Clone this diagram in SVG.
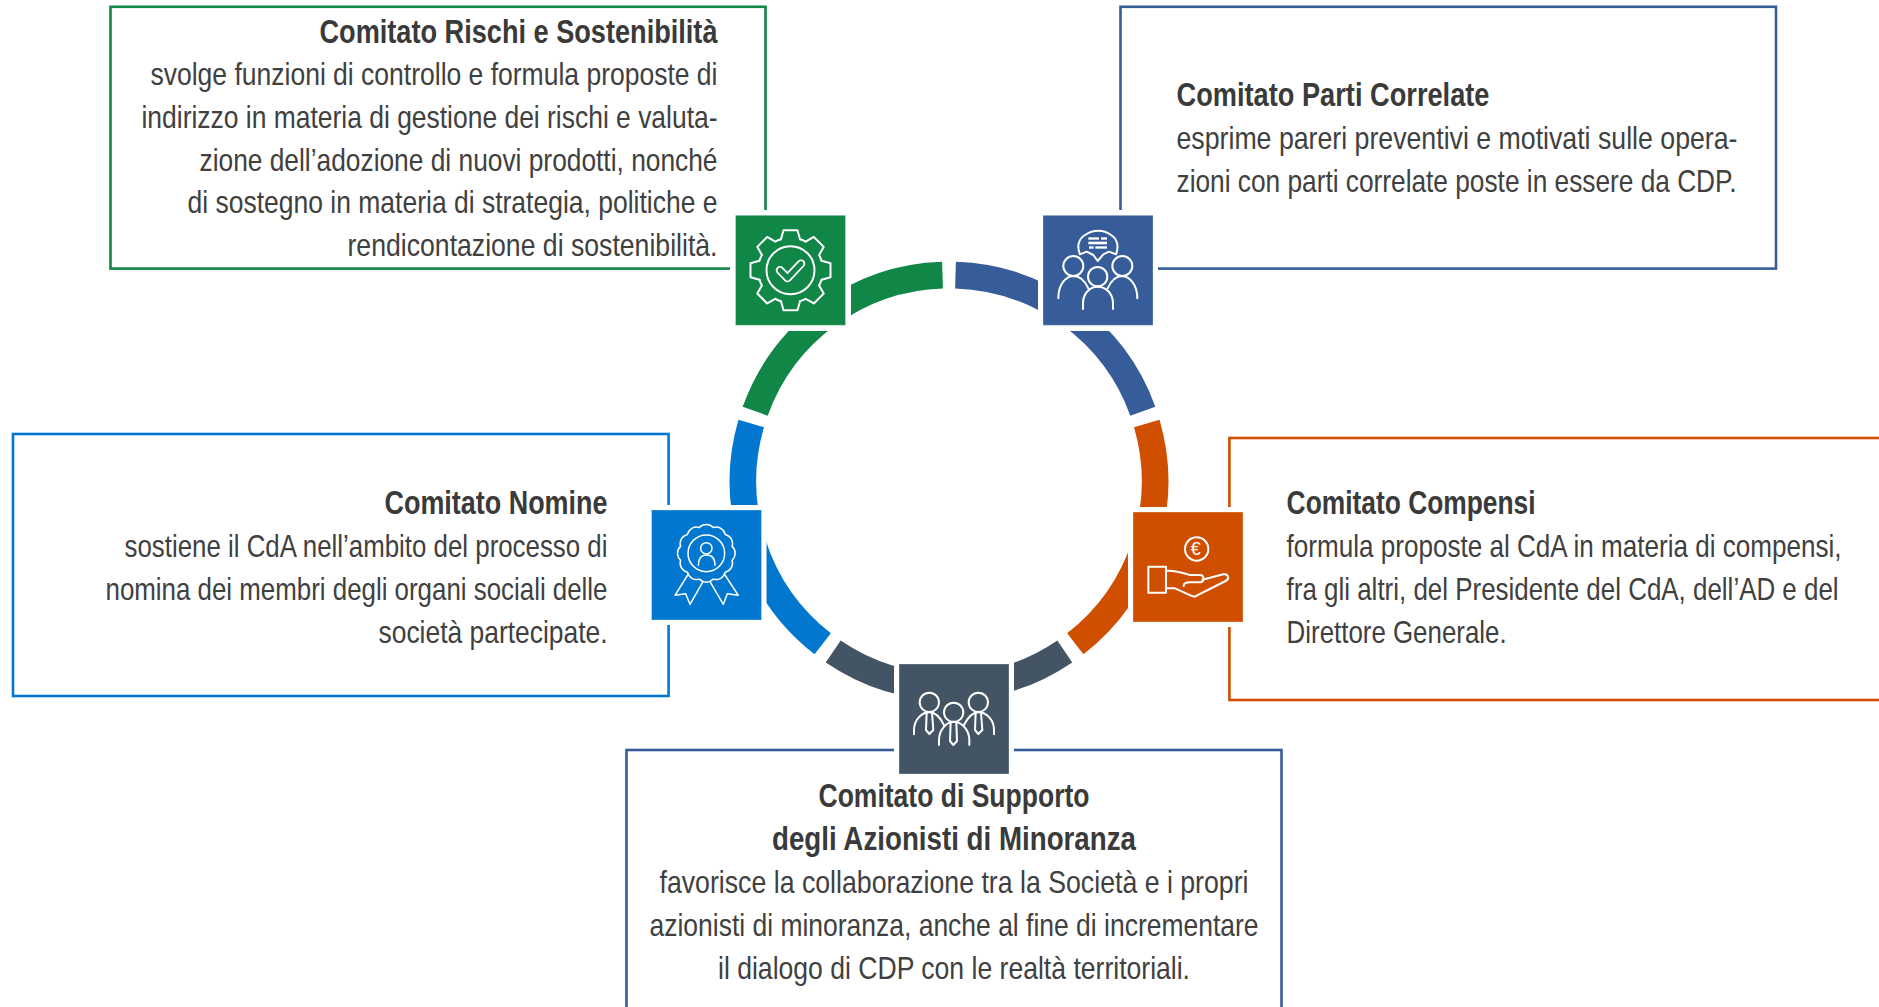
<svg xmlns="http://www.w3.org/2000/svg" xmlns:xlink="http://www.w3.org/1999/xlink" width="1879" height="1007" viewBox="0 0 1879 1007">
<style>
text{font-family:"Liberation Sans Narrow","Liberation Sans",Arial,sans-serif;fill:#404040;font-size:30.5px}
.t{font-weight:700;font-size:32.5px;fill:#3a3a3a}
.e{text-anchor:end}.m{text-anchor:middle}
.box{fill:none;stroke-width:2.6}
.ring{fill:none;stroke-width:26.6}
.halo{fill:#fff}
.sq{stroke:#fff;stroke-opacity:.3;stroke-width:1}
.ic{fill:none;stroke:#fff;stroke-width:6;stroke-linecap:round;stroke-linejoin:round}
.thin{stroke-width:4.5}
</style>
<defs>
<path id="tooth" d="M-9.5-31L-7-40H7L9.5-31A32 32 0 0 1 15.2-28.6"/>
</defs>
<rect width="1879" height="1007" fill="#fff"/>
<g id="connectors">
<path class="ring" stroke="#365c9a" d="M955.5 275.1A206 206 0 0 1 1142.8 411.2"/>
<path class="ring" stroke="#d04e00" d="M1146.8 423.5A206 206 0 0 1 1075.3 643.8"/>
<path class="ring" stroke="#435564" d="M1064.8 651.4A206 206 0 0 1 833.2 651.4"/>
<path class="ring" stroke="#0277cf" d="M822.7 643.8A206 206 0 0 1 751.2 423.5"/>
<path class="ring" stroke="#108647" d="M755.2 411.2A206 206 0 0 1 942.5 275.1"/>
</g>
<g id="node-rischi">
<rect class="box" stroke="#108647" x="110.5" y="6.8" width="655" height="261.8"/>
<text class="t e" x="717.5" y="42.7" textLength="398" lengthAdjust="spacingAndGlyphs">Comitato Rischi e Sostenibilità</text>
<text class="e" x="717.5" y="85" textLength="567" lengthAdjust="spacingAndGlyphs">svolge funzioni di controllo e formula proposte di</text>
<text class="e" x="717.5" y="127.7" textLength="576" lengthAdjust="spacingAndGlyphs">indirizzo in materia di gestione dei rischi e valuta-</text>
<text class="e" x="717.5" y="170.7" textLength="518" lengthAdjust="spacingAndGlyphs">zione dell’adozione di nuovi prodotti, nonché</text>
<text class="e" x="717.5" y="213" textLength="530" lengthAdjust="spacingAndGlyphs">di sostegno in materia di strategia, politiche e</text>
<text class="e" x="717.5" y="256" textLength="370" lengthAdjust="spacingAndGlyphs">rendicontazione di sostenibilità.</text>
<rect class="halo" x="730" y="210" width="121" height="121"/>
<rect class="sq" fill="#108647" x="735.5" y="215.3" width="110" height="110"/>
<g class="ic thin" transform="translate(790.5 270.2)" style="stroke-width:2">
<use xlink:href="#tooth"/><use xlink:href="#tooth" transform="rotate(45)"/><use xlink:href="#tooth" transform="rotate(90)"/><use xlink:href="#tooth" transform="rotate(135)"/><use xlink:href="#tooth" transform="rotate(180)"/><use xlink:href="#tooth" transform="rotate(225)"/><use xlink:href="#tooth" transform="rotate(270)"/><use xlink:href="#tooth" transform="rotate(315)"/>
<circle r="24"/>
<path d="M-10.5 0L-3 7.8L10.5-6.5" style="stroke-width:8.5"/>
<path d="M-10.5 0L-3 7.8L10.5-6.5" style="stroke:#108647;stroke-width:5"/>
</g>
</g>
<g id="node-parti-correlate">
<rect class="box" stroke="#365c9a" x="1120.5" y="6.8" width="655.5" height="261.8"/>
<text class="t" x="1176.5" y="106" textLength="313" lengthAdjust="spacingAndGlyphs">Comitato Parti Correlate</text>
<text x="1176.5" y="149" textLength="561" lengthAdjust="spacingAndGlyphs">esprime pareri preventivi e motivati sulle opera-</text>
<text x="1176.5" y="192" textLength="560" lengthAdjust="spacingAndGlyphs">zioni con parti correlate poste in essere da CDP.</text>
<rect class="halo" x="1038" y="210" width="120" height="121"/>
<rect class="sq" fill="#365c9a" x="1043" y="215.3" width="110" height="110"/>
<g class="ic" transform="translate(1035 205) scale(.3333)">
<path d="M135 148C125 125 130 102 150 90C175 73 205 73 228 90C248 102 252 125 243 148L222 140L205 148L188 168L175 150L155 140Z"/>
<g style="fill:#fff;stroke:none"><rect x="160" y="97" width="32" height="7"/><rect x="198" y="97" width="18" height="7"/><rect x="160" y="110" width="56" height="8"/><rect x="162" y="124" width="14" height="7"/><rect x="181" y="124" width="35" height="7"/></g>
<circle cx="115" cy="183" r="30"/><circle cx="262" cy="183" r="30"/><circle cx="188" cy="215" r="29"/>
<path d="M70 280C70 240 90 215 115 213C135 213 150 228 160 250"/>
<path d="M307 280C307 240 285 215 262 213C242 213 228 228 218 250"/>
<path d="M144 312V295C144 265 165 245 188 245C212 245 234 265 234 295V312"/>
</g>
</g>
<g id="node-nomine">
<rect class="box" stroke="#0277cf" x="13" y="434" width="655.6" height="262"/>
<text class="t e" x="607.5" y="514" textLength="223" lengthAdjust="spacingAndGlyphs">Comitato Nomine</text>
<text class="e" x="607.5" y="557" textLength="483" lengthAdjust="spacingAndGlyphs">sostiene il CdA nell’ambito del processo di</text>
<text class="e" x="607.5" y="600" textLength="502" lengthAdjust="spacingAndGlyphs">nomina dei membri degli organi sociali delle</text>
<text class="e" x="607.5" y="643" textLength="229" lengthAdjust="spacingAndGlyphs">società partecipate.</text>
<rect class="halo" x="646.5" y="505" width="120" height="120"/>
<rect class="sq" fill="#0277cf" x="651.5" y="510" width="110" height="110"/>
<g class="ic thin" transform="translate(645 500) scale(.3333)">
<path d="M204.7 82.7A28 28 0 0 1 240.6 103.4A28 28 0 0 1 261.3 139.3A28 28 0 0 1 261.3 180.7A28 28 0 0 1 240.6 216.6A28 28 0 0 1 204.7 237.3A28 28 0 0 1 163.3 237.3A28 28 0 0 1 127.4 216.6A28 28 0 0 1 106.7 180.7A28 28 0 0 1 106.7 139.3A28 28 0 0 1 127.4 103.4A28 28 0 0 1 163.3 82.7A28 28 0 0 1 204.7 82.7Z"/>
<circle cx="184" cy="160" r="55"/><circle cx="184" cy="145" r="17"/>
<path d="M160 196C160 175 170 165 184 165C200 165 210 175 210 196"/>
<path d="M130 222L90 286L122 281L135 313L174 245"/>
<path d="M238 222L280 286L247 281L235 313L195 245"/>
</g>
</g>
<g id="node-compensi">
<rect class="box" stroke="#d04e00" x="1229.4" y="438" width="680" height="262"/>
<text class="t" x="1286.6" y="514" textLength="249" lengthAdjust="spacingAndGlyphs">Comitato Compensi</text>
<text x="1286.6" y="557" textLength="555" lengthAdjust="spacingAndGlyphs">formula proposte al CdA in materia di compensi,</text>
<text x="1286.6" y="600" textLength="552" lengthAdjust="spacingAndGlyphs">fra gli altri, del Presidente del CdA, dell’AD e del</text>
<text x="1286.6" y="643" textLength="220" lengthAdjust="spacingAndGlyphs">Direttore Generale.</text>
<rect class="halo" x="1128" y="507" width="120" height="120"/>
<rect class="sq" fill="#d04e00" x="1133" y="512" width="110" height="110"/>
<g class="ic" transform="translate(1125 505) scale(.3333)">
<circle cx="215" cy="132" r="35"/>
<text x="212" y="151" class="m" style="fill:#fff;stroke:none;font-size:54px;font-family:'Liberation Sans',sans-serif">€</text>
<rect x="70" y="185" width="53" height="78"/>
<path d="M123 198C150 195 175 205 195 210H225C237 210 240 228 228 232H195C180 232 176 238 176 243"/>
<path d="M232 224L295 208C310 205 315 222 302 228L215 272C210 276 205 276 198 272L150 250H123"/>
</g>
</g>
<g id="node-supporto">
<rect class="box" stroke="#365c9a" x="626.5" y="750" width="655" height="280"/>
<text class="t m" x="954" y="807" textLength="271" lengthAdjust="spacingAndGlyphs">Comitato di Supporto</text>
<text class="t m" x="954" y="850" textLength="364" lengthAdjust="spacingAndGlyphs">degli Azionisti di Minoranza</text>
<text class="m" x="954" y="893" textLength="589" lengthAdjust="spacingAndGlyphs">favorisce la collaborazione tra la Società e i propri</text>
<text class="m" x="954" y="936" textLength="609" lengthAdjust="spacingAndGlyphs">azionisti di minoranza, anche al fine di incrementare</text>
<text class="m" x="954" y="979" textLength="472" lengthAdjust="spacingAndGlyphs">il dialogo di CDP con le realtà territoriali.</text>
<rect class="halo" x="894" y="659" width="120" height="120"/>
<rect class="sq" fill="#435564" x="899" y="664" width="110" height="110"/>
<g class="ic" transform="translate(890 655) scale(.3333)">
<circle cx="118" cy="142" r="29"/><circle cx="265" cy="142" r="29"/><circle cx="191" cy="172" r="29"/>
<path d="M72 238V225C72 195 95 172 118 172C135 172 150 185 163 212"/>
<path d="M312 238V225C312 195 290 172 265 172C250 172 235 185 222 210"/>
<path d="M147 270V255C147 225 170 200 191 200C215 200 238 225 238 255V270"/>
<path d="M110 172L108 225L118 237L130 225L126 172"/>
<path d="M257 172L255 225L265 237L277 225L273 172"/>
<path d="M182 202L180 258L190 270L201 258L199 202"/>
</g>
</g>
</svg>
